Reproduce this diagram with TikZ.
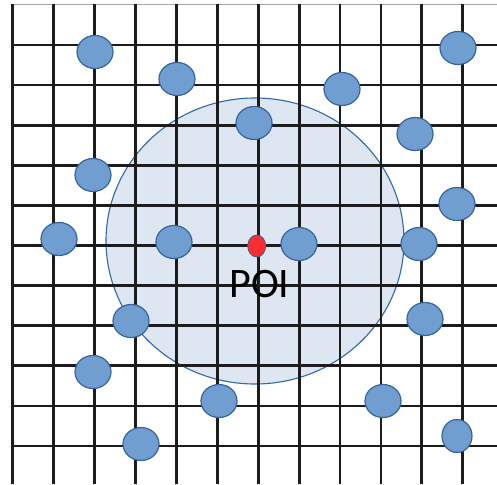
\documentclass[tikz,border=0pt]{standalone}
\usepackage{fontspec}
\setsansfont{Carlito}
\usetikzlibrary{shapes.geometric}

\definecolor{dotfill}{RGB}{112,158,208}
\definecolor{dotedge}{RGB}{55,100,160}
\definecolor{zonefill}{RGB}{222,230,242}
\definecolor{zoneedge}{RGB}{46,105,170}
\definecolor{poired}{RGB}{250,45,50}
\definecolor{gridline}{RGB}{28,28,28}

\begin{document}
\begin{tikzpicture}[x=1pt, y=-1pt,
  zone/.style={ellipse,draw=zoneedge,line width=1.1pt,fill=zonefill,inner sep=0pt,minimum width=298pt,minimum height=286pt},
  sensor/.style={ellipse,draw=dotedge,line width=1.2pt,fill=dotfill,inner sep=0pt,minimum width=36pt,minimum height=33pt},
  poi/.style={ellipse,draw=dotedge,line width=0.8pt,fill=poired,inner sep=0pt,minimum width=18pt,minimum height=22pt},
  gridln/.style={draw=gridline,line width=2.8pt},
  every node/.style={font=\sffamily}]
\useasboundingbox[fill=white] (0,0) rectangle (497,484);
\node[zone] (zone) at (255,241) {};
% grid
\draw[gray!70,line width=1.4pt] (12.8,4.5) -- (497,4.5);
\foreach \i in {0,...,11}
  \draw[gridln] (12.8+40.9*\i,4) -- (12.8+40.9*\i,484);
\foreach \j in {0,...,10}
  \draw[gridln] (12.8,45+40.1*\j) -- (497,45+40.1*\j);
% sensors
\foreach \x/\y [count=\k] in {95/52,177/79,254/123,342/89,458/48,415/134,93/175,457/204,59/239,174/242,299/244,419/244,131/321,425/319,93/372,219/401,383/401,141/444}
  \node[sensor] (s\k) at (\x,\y) {};
\node[sensor,minimum width=30pt] (s19) at (457,436) {};
\node[poi] (poi) at (256.7,246) {};
\node[inner sep=0pt,font=\sffamily\fontsize{42}{50}\selectfont] (poilabel) at (259.5,284) {POI};
\end{tikzpicture}
\end{document}
